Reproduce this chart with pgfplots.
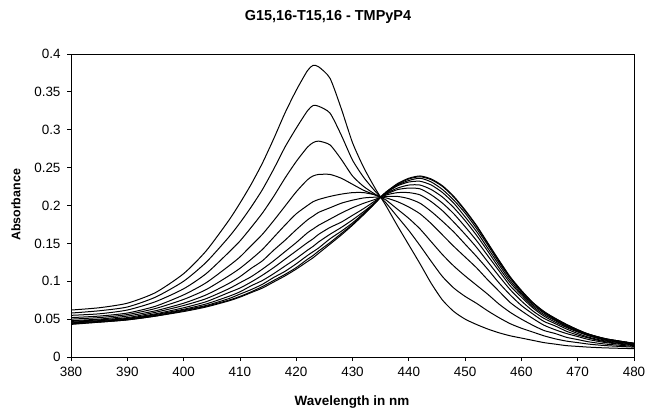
\documentclass[border=0pt]{standalone}
\usepackage{fontspec}
\setmainfont{Liberation Sans}
\usepackage{pgfplots}
\usepackage{pgfplotstable}
\pgfplotsset{compat=1.18}
\pgfplotstableread{
x c0 c1 c2 c3 c4 c5 c6 c7 c8 c9 c10 c11
380 .062 .058 .055 .052 .050 .048 .047 .046 .045 .045 .044 .043
385 .065 .061 .057 .054 .052 .050 .049 .048 .047 .047 .046 .046
390 .071 .066 .062 .058 .056 .054 .052 .051 .050 .050 .049 .049
395 .085 .079 .073 .067 .064 .061 .059 .057 .056 .055 .054 .054
400 .110 .100 .090 .082 .076 .071 .068 .065 .063 .062 .061 .060
404 .140 .125 .110 .098 .089 .082 .077 .073 .070 .068 .067 .066
408 .180 .158 .138 .120 .107 .097 .090 .085 .080 .077 .075 .074
410 .203 .177 .153 .132 .117 .106 .098 .091 .086 .083 .080 .079
412 .228 .198 .171 .147 .129 .117 .106 .099 .094 .089 .086 .085
414 .256 .221 .190 .162 .142 .127 .116 .108 .101 .096 .093 .091
416 .288 .248 .212 .180 .158 .141 .127 .118 .110 .105 .101 .099
418 .322 .277 .236 .199 .174 .154 .139 .129 .120 .113 .109 .107
420 .352 .302 .258 .218 .189 .168 .151 .140 .130 .123 .118 .116
422 .378 .325 .277 .234 .200 .181 .164 .151 .141 .134 .129 .126
423 .385 .332 .283 .239 .205 .186 .169 .156 .146 .139 .134 .131
424 .383 .331 .285 .241 .208 .191 .174 .162 .152 .144 .140 .137
426 .368 .322 .280 .241 .212 .197 .182 .171 .162 .156 .151 .149
428 .328 .293 .261 .236 .215 .203 .190 .178 .171 .166 .163 .161
430 .283 .260 .239 .228 .217 .207 .197 .187 .181 .177 .175 .174
432 .250 .237 .225 .220 .217 .210 .203 .196 .192 .190 .189 .188
434 .223 .219 .215 .214 .214 .211 .208 .206 .204 .204 .203 .203
435 .211 .211 .211 .211 .211 .211 .211 .211 .211 .211 .211 .211
436 .199 .203 .207 .210 .212 .214 .215 .216 .217 .217 .218 .218
438 .173 .185 .195 .205 .212 .217 .221 .223 .226 .227 .228 .229
440 .148 .167 .183 .198 .209 .217 .223 .227 .231 .233 .235 .236
442 .123 .147 .169 .189 .203 .214 .222 .227 .232 .236 .238 .239
444 .097 .126 .152 .176 .192 .205 .214 .221 .227 .231 .234 .235
446 .075 .106 .135 .161 .179 .193 .203 .211 .217 .221 .225 .226
448 .060 .091 .120 .146 .165 .178 .189 .197 .203 .207 .211 .212
450 .050 .080 .107 .132 .149 .162 .172 .180 .185 .190 .193 .194
452 .043 .071 .095 .118 .133 .145 .154 .161 .166 .170 .173 .174
454 .037 .061 .083 .102 .116 .126 .134 .140 .144 .148 .150 .151
456 .032 .052 .070 .087 .098 .107 .114 .118 .122 .125 .127 .128
458 .028 .044 .059 .072 .082 .089 .094 .098 .101 .104 .105 .106
460 .025 .038 .050 .061 .068 .074 .079 .082 .084 .086 .087 .088
462 .022 .033 .042 .051 .057 .061 .065 .067 .069 .071 .072 .072
464 .019 .028 .035 .042 .047 .051 .054 .056 .058 .059 .060 .060
466 .017 .024 .031 .036 .041 .044 .046 .048 .049 .050 .051 .051
468 .015 .021 .026 .031 .034 .037 .039 .040 .041 .042 .043 .043
470 .014 .019 .023 .027 .029 .031 .033 .034 .035 .035 .036 .036
472 .013 .017 .020 .023 .025 .026 .028 .028 .029 .030 .030 .030
475 .012 .015 .017 .019 .020 .021 .022 .023 .023 .024 .024 .024
480 .011 .013 .014 .015 .016 .017 .017 .017 .018 .018 .018 .018
}\spectra
\begin{document}
\begin{tikzpicture}
\path[use as bounding box] (-71bp,-56bp) rectangle (575bp,357bp);
\begin{axis}[
  at={(0bp,0bp)}, anchor=south west,
  scale only axis, width=563bp, height=303bp,
  xmin=380, xmax=480, ymin=0, ymax=0.4,
  xtick={380,390,400,410,420,430,440,450,460,470,480},
  xticklabels={380,390,400,410,420,430,440,450,460,470,480},
  ytick={0,0.05,0.1,0.15,0.2,0.25,0.3,0.35,0.4},
  yticklabels={0,0.05,0.1,0.15,0.2,0.25,0.3,0.35,0.4},
  tick align=outside, xtick pos=bottom, ytick pos=left,
  major tick length=4bp,
  tick style={black, line width=0.8bp},
  axis line style={black, line width=0.9bp},
  ticklabel style={font=\fontsize{13.5}{15}\selectfont},
  yticklabel style={xshift=-3bp},
  xticklabel style={yshift=-3bp},
  clip=true,
]
\pgfplotsinvokeforeach{c0,c1,c2,c3,c4,c5,c6,c7,c8,c9,c10,c11}{
  \addplot[black, line width=1bp, smooth, tension=0.4] table[x=x,y=#1]{\spectra};
}
\end{axis}
\node[font=\bfseries\fontsize{14.5}{17}\selectfont] at (257bp,340bp) {G15,16-T15,16 - TMPyP4};
\node[font=\bfseries\fontsize{13.5}{16}\selectfont] at (281bp,-45bp) {Wavelength in nm};
\node[font=\bfseries\fontsize{12.5}{15}\selectfont, rotate=90] at (-55bp,152bp) {Absorbance};
\end{tikzpicture}
\end{document}
